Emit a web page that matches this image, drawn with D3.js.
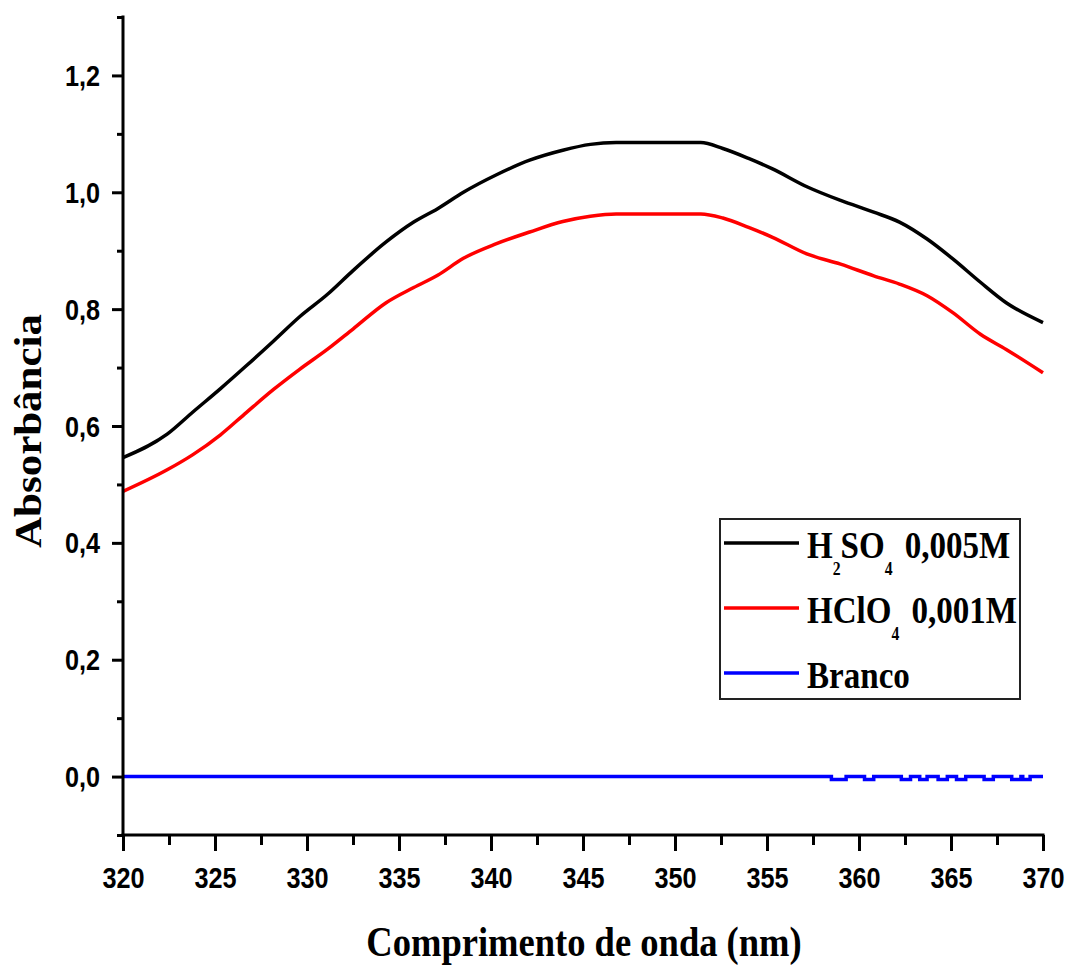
<!DOCTYPE html>
<html>
<head>
<meta charset="utf-8">
<script src="https://cdn.jsdelivr.net/npm/d3@7"></script>
<style>
  html, body { margin: 0; padding: 0; background: #fff; }
  svg { display: block; }
</style>
</head>
<body>
<svg id="chart" width="1067" height="966"></svg>
<script>
// ---------------- DATA ----------------
const xTickValues = [320, 325, 330, 335, 340, 345, 350, 355, 360, 365, 370];
const xTickLabels = ["320", "325", "330", "335", "340", "345", "350", "355", "360", "365", "370"];
const xMinorTicks = [322.5, 327.5, 332.5, 337.5, 342.5, 347.5, 352.5, 357.5, 362.5, 367.5];
const yTickValues = [0.0, 0.2, 0.4, 0.6, 0.8, 1.0, 1.2];
const yTickLabels = ["0,0", "0,2", "0,4", "0,6", "0,8", "1,0", "1,2"];
const yMinorTicks = [-0.1, 0.1, 0.3, 0.5, 0.7, 0.9, 1.1, 1.3];

const seriesNames = ["H2SO4 0,005M", "HClO4 0,001M", "Branco"];
const seriesColors = ["#000000", "#ff0000", "#0000ff"];

const wavelength = [320, 322.4, 323.8, 325.3, 326.7, 328.2, 329.6, 331.1, 332.5, 334.3, 335.8, 337.1,
  338.5, 340.3, 342.1, 343.9, 345.4, 346.8, 349.4, 351.4, 352.6, 354.0, 355.3, 357.2, 359.0, 360.8,
  362.2, 363.7, 365.1, 366.6, 368.0, 370];
const absH2SO4 = [0.546, 0.586, 0.624, 0.664, 0.703, 0.746, 0.787, 0.825, 0.866, 0.915, 0.949, 0.972,
  1.000, 1.030, 1.055, 1.072, 1.082, 1.085, 1.085, 1.085, 1.075, 1.058, 1.040, 1.009, 0.986, 0.966,
  0.949, 0.920, 0.886, 0.846, 0.811, 0.777];
const absHClO4 = [0.488, 0.525, 0.551, 0.585, 0.623, 0.663, 0.697, 0.731, 0.766, 0.811, 0.837, 0.858,
  0.887, 0.912, 0.932, 0.950, 0.959, 0.963, 0.963, 0.963, 0.956, 0.940, 0.923, 0.894, 0.877, 0.857,
  0.843, 0.823, 0.794, 0.757, 0.731, 0.691];

const wavelengthBranco = [320, 358, 358.5, 359.3, 360.3, 360.8, 362.3, 362.8, 363.3, 363.7, 364.3, 364.8,
  365.3, 365.8, 366.8, 367.3, 368.3, 368.8, 368.9, 369.3, 370];
const absBranco = [0, 0, -0.005, 0, -0.005, 0, -0.005, 0, -0.005, 0, -0.005, 0,
  -0.005, 0, -0.005, 0, -0.005, 0, -0.005, 0, 0];

// ---------------- CHART ----------------
const svg = d3.select("#chart");
const SX = 0.87; // horizontal compression of the original picture's text

const x = d3.scaleLinear().domain([320, 370]).range([123, 1043]);
const y = d3.scaleLinear().domain([-0.1, 1.3]).range([835, 17]);

const line = d3.line().x(d => x(d[0])).y(d => y(d[1])).curve(d3.curveMonotoneX);
const stepLine = d3.line().x(d => x(d[0])).y(d => y(d[1])).curve(d3.curveStepAfter);

const plot = svg.append("g");
plot.append("path")
  .datum(wavelengthBranco.map((w, i) => [w, absBranco[i]]))
  .attr("d", stepLine).attr("fill", "none")
  .attr("stroke", seriesColors[2]).attr("stroke-width", 3.5);
plot.append("path")
  .datum(wavelength.map((w, i) => [w, absHClO4[i]]))
  .attr("d", line).attr("fill", "none")
  .attr("stroke", seriesColors[1]).attr("stroke-width", 3.5);
plot.append("path")
  .datum(wavelength.map((w, i) => [w, absH2SO4[i]]))
  .attr("d", line).attr("fill", "none")
  .attr("stroke", seriesColors[0]).attr("stroke-width", 3.5);

const tickFont = "'Liberation Sans', Arial, sans-serif";
const serifFont = "'Liberation Serif', 'Times New Roman', serif";

// X axis minor
svg.append("g").attr("transform", "translate(0,835)")
  .call(d3.axisBottom(x).tickValues(xMinorTicks).tickSize(10).tickSizeOuter(0).tickFormat(""))
  .call(g => g.select(".domain").remove())
  .call(g => g.selectAll("line").attr("stroke", "#000").attr("stroke-width", 3));
// X axis major
const xAxisG = svg.append("g").attr("transform", "translate(0,835)")
  .call(d3.axisBottom(x).tickValues(xTickValues).tickSize(16).tickSizeOuter(0)
    .tickFormat((d, i) => xTickLabels[i]));
xAxisG.select(".domain").attr("stroke", "#000").attr("stroke-width", 3)
  .attr("d", `M${x(320) - 1.5},0H${x(370) + 1.5}`);
xAxisG.selectAll("line").attr("stroke", "#000").attr("stroke-width", 3);
xAxisG.selectAll("text")
  .attr("y", 53).attr("dy", null)
  .attr("transform", `scale(${SX},1)`)
  .attr("font-family", tickFont).attr("font-weight", "bold").attr("font-size", 29)
  .attr("fill", "#000");

// Y axis minor
svg.append("g").attr("transform", "translate(123,0)")
  .call(d3.axisLeft(y).tickValues(yMinorTicks).tickSize(6).tickSizeOuter(0).tickFormat(""))
  .call(g => g.select(".domain").remove())
  .call(g => g.selectAll("line").attr("stroke", "#000").attr("stroke-width", 3));
// Y axis major
const yAxisG = svg.append("g").attr("transform", "translate(123,0)")
  .call(d3.axisLeft(y).tickValues(yTickValues).tickSize(11).tickSizeOuter(0)
    .tickFormat((d, i) => yTickLabels[i]));
yAxisG.select(".domain").attr("stroke", "#000").attr("stroke-width", 3)
  .attr("d", `M0,${y(1.3) - 1.5}V${y(-0.1) + 1.5}`);
yAxisG.selectAll("line").attr("stroke", "#000").attr("stroke-width", 3);
yAxisG.selectAll("text")
  .attr("x", -23 / SX).attr("dy", null).attr("y", 10)
  .attr("transform", `scale(${SX},1)`)
  .attr("font-family", tickFont).attr("font-weight", "bold").attr("font-size", 29)
  .attr("fill", "#000");

// Axis titles
svg.append("text")
  .attr("transform", `translate(584,956) scale(${SX},1)`)
  .attr("text-anchor", "middle")
  .attr("font-family", serifFont).attr("font-weight", "bold").attr("font-size", 42)
  .text("Comprimento de onda (nm)");

svg.append("text")
  .attr("transform", `translate(41,431) scale(${SX},1) rotate(-90)`)
  .attr("text-anchor", "middle")
  .attr("font-family", serifFont).attr("font-weight", "bold").attr("font-size", 43)
  .text("Absorbância");

// Legend
const legend = svg.append("g");
legend.append("rect")
  .attr("x", 720).attr("y", 519).attr("width", 300).attr("height", 180)
  .attr("fill", "#fff").attr("stroke", "#222").attr("stroke-width", 2);

const legendRows = [543, 608, 673];
const legendParts = [
  [["H", 0], ["2", 1], ["SO", 0], ["4", 1], ["0,005M", 0]],
  [["HClO", 0], ["4", 1], ["0,001M", 0]],
  [["Branco", 0]]
];
legendRows.forEach((ly, i) => {
  legend.append("line")
    .attr("x1", 724).attr("x2", 799).attr("y1", ly).attr("y2", ly)
    .attr("stroke", seriesColors[i]).attr("stroke-width", 3.5);
  const t = legend.append("text")
    .attr("transform", `translate(807,${ly + 15}) scale(${SX},1)`)
    .attr("font-family", serifFont).attr("font-weight", "bold").attr("font-size", 38)
    .attr("fill", "#000");
  let sub = false;
  legendParts[i].forEach(([s, isSub], k) => {
    const ts = t.append("tspan").text(s);
    if (isSub) {
      ts.attr("font-size", 18);
      if (!sub) { ts.attr("dy", 17); sub = true; }
    } else if (sub) {
      ts.attr("dy", -17); sub = false;
      if (k === legendParts[i].length - 1) ts.attr("dx", 14);
    }
  });
});
</script>
</body>
</html>
